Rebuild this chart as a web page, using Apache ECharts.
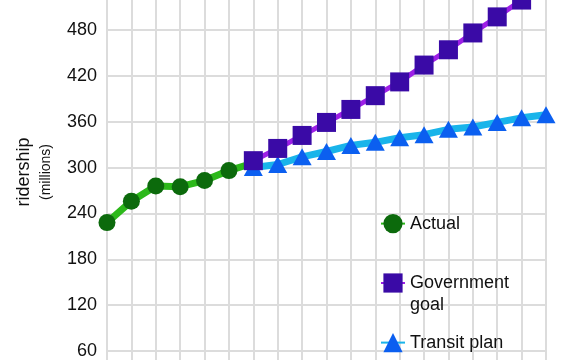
<!DOCTYPE html>
<html>
<head>
<meta charset="utf-8">
<script src="https://cdn.jsdelivr.net/npm/echarts@6/dist/echarts.min.js"></script>
<style>html,body{margin:0;padding:0;background:#fff}#c{width:584px;height:360px}</style>
</head>
<body>
<div id="c"></div>
<script>
var categories = ['0','1','2','3','4','5','6','7','8','9','10','11','12','13','14','15','16','17','18'];
var actual = [228, 256, 276, 275, 283, 296, 306, null, null, null, null, null, null, null, null, null, null, null, null];
var govGoal = [null, null, null, null, null, null, 309, 325, 342, 359, 376, 394, 412, 434, 454, 476, 497, 519, 540];
var transitPlan = [null, null, null, null, null, null, 300, 304, 314, 321, 329, 333, 339, 343, 350, 353, 359, 365, 369];
var yTicks = [0, 60, 120, 180, 240, 300, 360, 420, 480, 540];

var chart = echarts.init(document.getElementById('c'));
var font = 'Liberation Sans, Arial, sans-serif';
function legendCfg(name, top, extra) {
  var l = {
    data: [name], left: 380, top: top, orient: 'vertical',
    itemWidth: 24, itemHeight: 24, itemGap: 0, padding: 0,
    textStyle: { fontFamily: font, fontSize: 18, color: '#111' }
  };
  if (extra) { for (var k in extra) l[k] = extra[k]; }
  return l;
}
chart.setOption({
  animation: false,
  backgroundColor: '#fff',
  grid: { left: 107, right: 38, top: -16, bottom: -37, containLabel: false, outerBoundsMode: 'none' },
  legend: [
    legendCfg('Actual', 214),
    legendCfg('Government goal', 250, {
      formatter: function () { return '\nGovernment\ngoal'; },
      textStyle: { fontFamily: font, fontSize: 18, color: '#111', lineHeight: 22 }
    }),
    legendCfg('Transit plan', 333)
  ],
  xAxis: {
    type: 'category', data: categories, boundaryGap: false,
    axisLine: { show: false }, axisTick: { show: false }, axisLabel: { show: false },
    splitLine: { show: true, lineStyle: { color: '#dcdcdc', width: 2 } }
  },
  yAxis: {
    type: 'value', min: yTicks[0], max: yTicks[yTicks.length - 1], interval: 60,
    axisLine: { show: false }, axisTick: { show: false },
    axisLabel: { fontFamily: font, fontSize: 18, color: '#111', margin: 10 },
    splitLine: { show: true, lineStyle: { color: '#dcdcdc', width: 2 } }
  },
  series: [
    {
      name: 'Transit plan', type: 'line', data: transitPlan, z: 3,
      symbol: 'triangle', symbolSize: [19, 17], showAllSymbol: true,
      lineStyle: { color: '#19b4ea', width: 7 },
      itemStyle: { color: '#0b5ff0' }
    },
    {
      name: 'Government goal', type: 'line', data: govGoal, z: 4,
      symbol: 'rect', symbolSize: [19, 19], showAllSymbol: true,
      lineStyle: { color: '#9d1fe6', width: 5 },
      itemStyle: { color: '#3a0aa6' }
    },
    {
      name: 'Actual', type: 'line', data: actual, z: 2,
      symbol: 'circle', symbolSize: 17, showAllSymbol: true,
      lineStyle: { color: '#2cb81a', width: 7 },
      itemStyle: { color: '#0c6a0c' }
    }
  ],
  graphic: [
    { type: 'text', x: 24, y: 172, rotation: Math.PI / 2,
      style: { text: 'ridership', font: '18px ' + font, fill: '#111', textAlign: 'center', textVerticalAlign: 'middle' } },
    { type: 'text', x: 46, y: 172, rotation: Math.PI / 2,
      style: { text: '(millions)', font: '14px ' + font, fill: '#111', textAlign: 'center', textVerticalAlign: 'middle' } }
  ]
});
</script>
</body>
</html>
